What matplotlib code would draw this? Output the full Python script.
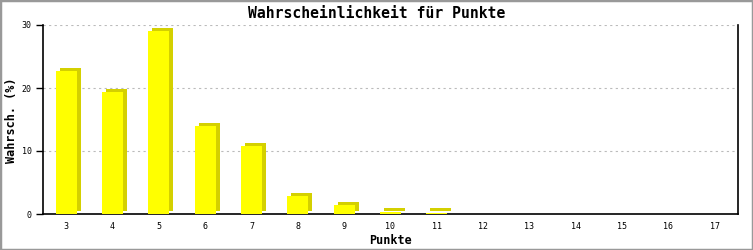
import matplotlib
matplotlib.use("Agg")
import matplotlib.pyplot as plt
import matplotlib.transforms as mtransforms
from matplotlib.patches import Rectangle

# data
punkte = [3, 4, 5, 6, 7, 8, 9, 10, 11, 12, 13, 14, 15, 16, 17]
wahrsch = [22.7, 19.4, 29.1, 13.9, 10.8, 2.9, 1.4, 0.3, 0.1, 0, 0, 0, 0, 0, 0]
y_ticks = [0, 10, 20, 30]

front = "#ffff00"
side = "#d4d000"
mono = "DejaVu Sans Mono"

fig = plt.figure(figsize=(7.53, 2.5), dpi=100)
ax = fig.add_axes([43 / 753, 36 / 250, 695 / 753, 189 / 250])

x = list(range(len(punkte)))
width = 0.45

# shadow, shifted 4px right and 3px up
shadow_tr = mtransforms.offset_copy(ax.transData, fig=fig, x=4, y=3, units="dots")
for xi, v in zip(x, wahrsch):
    if v > 0:
        ax.bar(xi, max(v, 0.45), width=width, color=side, transform=shadow_tr, zorder=2)
ax.bar(x, wahrsch, width=width, color=front, zorder=3)

ax.set_xlim(-0.5, len(punkte) - 0.5)
ax.set_ylim(0, 30)
ax.set_xticks(x)
ax.set_xticklabels([str(p) for p in punkte], fontsize=6, family=mono)
ax.set_yticks(y_ticks)
ax.set_yticklabels([str(t) for t in y_ticks], fontsize=6, family=mono)
ax.tick_params(axis="x", length=0, pad=6)
ax.tick_params(axis="y", length=5, width=1, pad=3)

ax.yaxis.grid(True, linestyle=(0, (2, 3)), color="#bbbbbb", linewidth=0.8)
ax.set_axisbelow(True)
for s in ["left", "bottom", "right"]:
    ax.spines[s].set_linewidth(1.2)
ax.spines["top"].set_visible(False)

fig.text(390 / 753, 1 - 240 / 250, "Punkte", ha="center", va="center",
         fontsize=8.5, family=mono, fontweight="bold")
fig.text(12 / 753, 1 - 120 / 250, "Wahrsch. (%)", ha="center", va="center", rotation=90,
         fontsize=8.5, family=mono, fontweight="bold")
fig.text(0.5, 1 - 13 / 250, "Wahrscheinlichkeit für Punkte", ha="center", va="center",
         fontsize=10.6, family=mono, fontweight="bold")

# image frame
fig.patches.append(Rectangle((0, 0), 1, 1, transform=fig.transFigure, fill=False,
                             edgecolor="#999999", linewidth=2.5))

fig.savefig("out.png", dpi=100, facecolor="white")
